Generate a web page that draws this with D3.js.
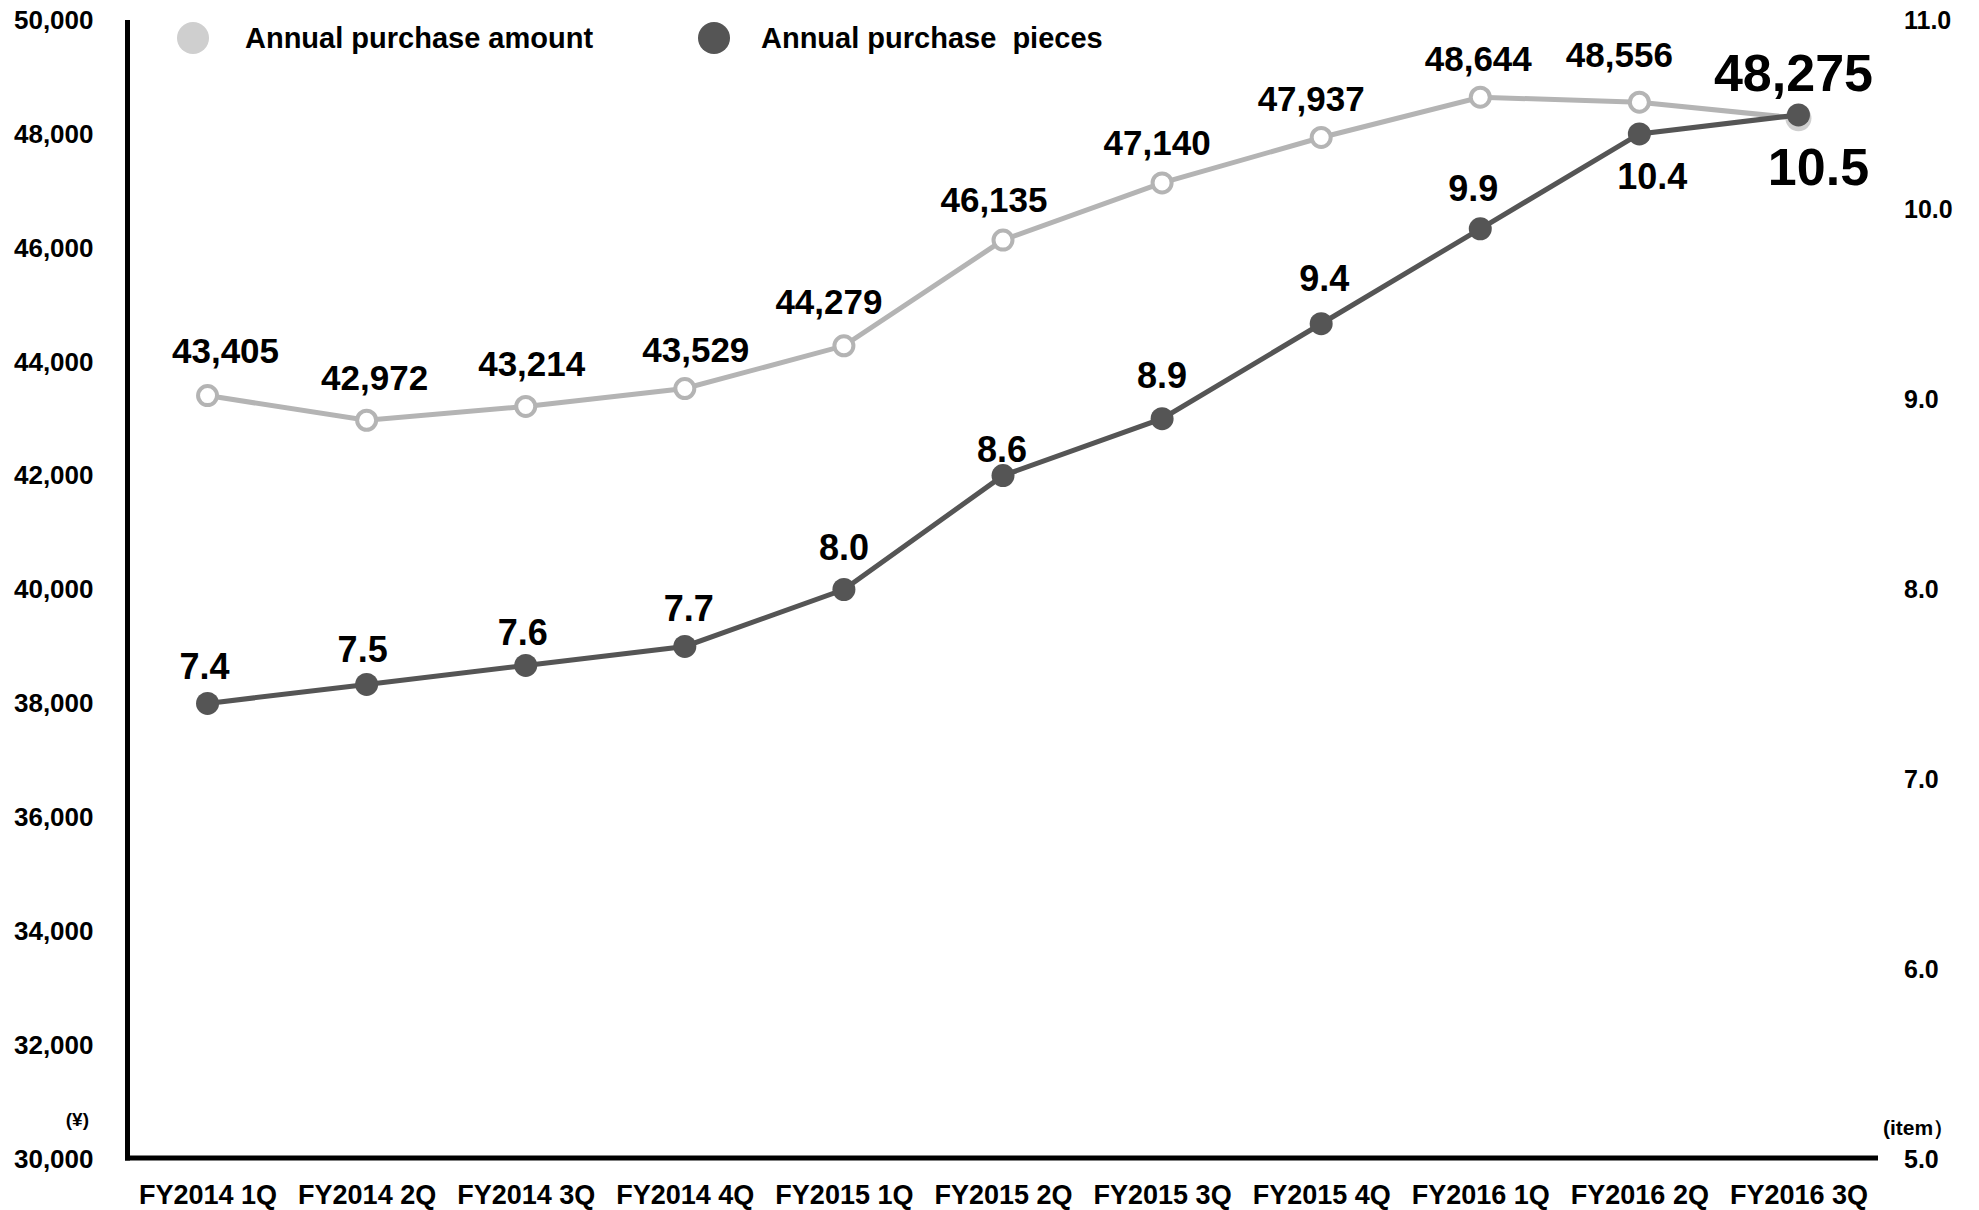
<!DOCTYPE html>
<html>
<head>
<meta charset="utf-8">
<script src="https://cdn.jsdelivr.net/npm/d3@7"></script>
<style>
  html, body { margin: 0; padding: 0; background: #fff; }
  svg { display: block; }
  text { font-family: "Liberation Sans", Arial, sans-serif; font-weight: bold; fill: #000; }
</style>
</head>
<body>
<svg id="chart" width="1979" height="1210"></svg>
<script>
// Quarterly periods
const quarters = ["FY2014 1Q", "FY2014 2Q", "FY2014 3Q", "FY2014 4Q",
                  "FY2015 1Q", "FY2015 2Q", "FY2015 3Q", "FY2015 4Q",
                  "FY2016 1Q", "FY2016 2Q", "FY2016 3Q"];
// Annual purchase amount per customer (yen)
const purchaseAmount = [43405, 42972, 43214, 43529, 44279, 46135, 47140, 47937, 48644, 48556, 48275];
// Annual purchase pieces per customer (items)
const purchasePieces = [7.4, 7.5, 7.6, 7.7, 8.0, 8.6, 8.9, 9.4, 9.9, 10.4, 10.5];
// Axis ticks
const amountTicks = [30000, 32000, 34000, 36000, 38000, 40000, 42000, 44000, 46000, 48000, 50000];
const piecesTicks = [5, 6, 7, 8, 9, 10, 11];

// Label offsets from each point (dx, dy of the text baseline)
const amountLabelOffset = [[18,-33],[8,-30],[6,-30],[11,-27],[-15,-32],[-9,-28],[-5,-28],[-10,-26],[-2,-26],[-20,-35],[-5,-27]];
const piecesLabelOffset = [[-3,-24],[-4,-22],[-3,-20],[4,-25],[0,-30],[-1,-14],[0,-31],[3,-33],[-7,-28],[13,55],[20,70]];

const svg = d3.select("#chart");

const x = d3.scalePoint().domain(quarters).range([128, 1878]).padding(0.5);
const yAmt = d3.scaleLinear().domain([30000, 50000]).range([1159, 20]);
const yPcs = d3.scaleLinear().domain([5, 11]).range([1159, 20]);

const AMT_LINE = "#b4b4b4";
const AMT_FILL = "#cfcfcf";
const PCS = "#555555";

// Left axis (yen)
const leftAxis = svg.append("g")
  .attr("transform", "translate(127.5,0)")
  .call(d3.axisLeft(yAmt).tickValues(amountTicks).tickFormat(d3.format(",")).tickSize(0).tickPadding(34));
leftAxis.select(".domain").remove();
leftAxis.selectAll("text").style("font-size", "26px").style("font-family", "Liberation Sans, Arial, sans-serif").style("font-weight", "bold");

// Right axis (items)
const rightAxis = svg.append("g")
  .attr("transform", "translate(1878,0)")
  .call(d3.axisRight(yPcs).tickValues(piecesTicks).tickFormat(d3.format(".1f")).tickSize(0).tickPadding(26));
rightAxis.select(".domain").remove();
rightAxis.selectAll("text").style("font-size", "25px").style("font-family", "Liberation Sans, Arial, sans-serif").style("font-weight", "bold");

// Bottom axis (quarters)
const bottomAxis = svg.append("g")
  .attr("transform", "translate(0,1158)")
  .call(d3.axisBottom(x).tickSize(0).tickPadding(27));
bottomAxis.select(".domain").remove();
bottomAxis.selectAll("text").style("font-size", "27px").style("font-family", "Liberation Sans, Arial, sans-serif").style("font-weight", "bold");

// Axis lines
svg.append("line").attr("x1", 127.5).attr("x2", 127.5).attr("y1", 20).attr("y2", 1160.5)
  .attr("stroke", "#000").attr("stroke-width", 5);
svg.append("line").attr("x1", 125).attr("x2", 1878).attr("y1", 1158).attr("y2", 1158)
  .attr("stroke", "#000").attr("stroke-width", 5);

// Unit labels
svg.append("text").attr("x", 89).attr("y", 1126).attr("text-anchor", "end")
  .style("font-size", "19px").text("(¥)");
svg.append("text").attr("x", 1883).attr("y", 1135)
  .style("font-size", "21px").text("(item）");

// Legend
svg.append("circle").attr("cx", 193).attr("cy", 38).attr("r", 16).attr("fill", AMT_FILL);
svg.append("text").attr("x", 245).attr("y", 48).style("font-size", "29px").text("Annual purchase amount");
svg.append("circle").attr("cx", 714).attr("cy", 38).attr("r", 16).attr("fill", PCS);
svg.append("text").attr("x", 761).attr("y", 48).style("font-size", "29px")
  .attr("xml:space", "preserve").style("white-space", "pre").text("Annual purchase  pieces");

const n = quarters.length;

// Amount series
const amtLine = d3.line().x((d, i) => x(quarters[i])).y(d => yAmt(d));
svg.append("path").datum(purchaseAmount).attr("d", amtLine)
  .attr("fill", "none").attr("stroke", AMT_LINE).attr("stroke-width", 5);
svg.selectAll(".amt-pt").data(purchaseAmount).enter().append("circle")
  .attr("class", "amt-pt")
  .attr("cx", (d, i) => x(quarters[i]))
  .attr("cy", d => yAmt(d))
  .attr("r", (d, i) => i === n - 1 ? 13 : 9.5)
  .attr("fill", (d, i) => i === n - 1 ? AMT_FILL : "#fff")
  .attr("stroke", (d, i) => i === n - 1 ? "none" : AMT_LINE)
  .attr("stroke-width", 4);

// Pieces series
const pcsLine = d3.line().x((d, i) => x(quarters[i])).y(d => yPcs(d));
svg.append("path").datum(purchasePieces).attr("d", pcsLine)
  .attr("fill", "none").attr("stroke", PCS).attr("stroke-width", 5);
svg.selectAll(".pcs-pt").data(purchasePieces).enter().append("circle")
  .attr("class", "pcs-pt")
  .attr("cx", (d, i) => x(quarters[i]))
  .attr("cy", d => yPcs(d))
  .attr("r", 11.5)
  .attr("fill", PCS);

// Value labels
svg.selectAll(".amt-lbl").data(purchaseAmount).enter().append("text")
  .attr("class", "amt-lbl")
  .attr("text-anchor", "middle")
  .attr("x", (d, i) => x(quarters[i]) + amountLabelOffset[i][0])
  .attr("y", (d, i) => yAmt(d) + amountLabelOffset[i][1])
  .style("font-size", (d, i) => i === n - 1 ? "52px" : "35px")
  .text(d => d3.format(",")(d));

svg.selectAll(".pcs-lbl").data(purchasePieces).enter().append("text")
  .attr("class", "pcs-lbl")
  .attr("text-anchor", "middle")
  .attr("x", (d, i) => x(quarters[i]) + piecesLabelOffset[i][0])
  .attr("y", (d, i) => yPcs(d) + piecesLabelOffset[i][1])
  .style("font-size", (d, i) => i === n - 1 ? "52px" : "36px")
  .text(d => d3.format(".1f")(d));
</script>
</body>
</html>
